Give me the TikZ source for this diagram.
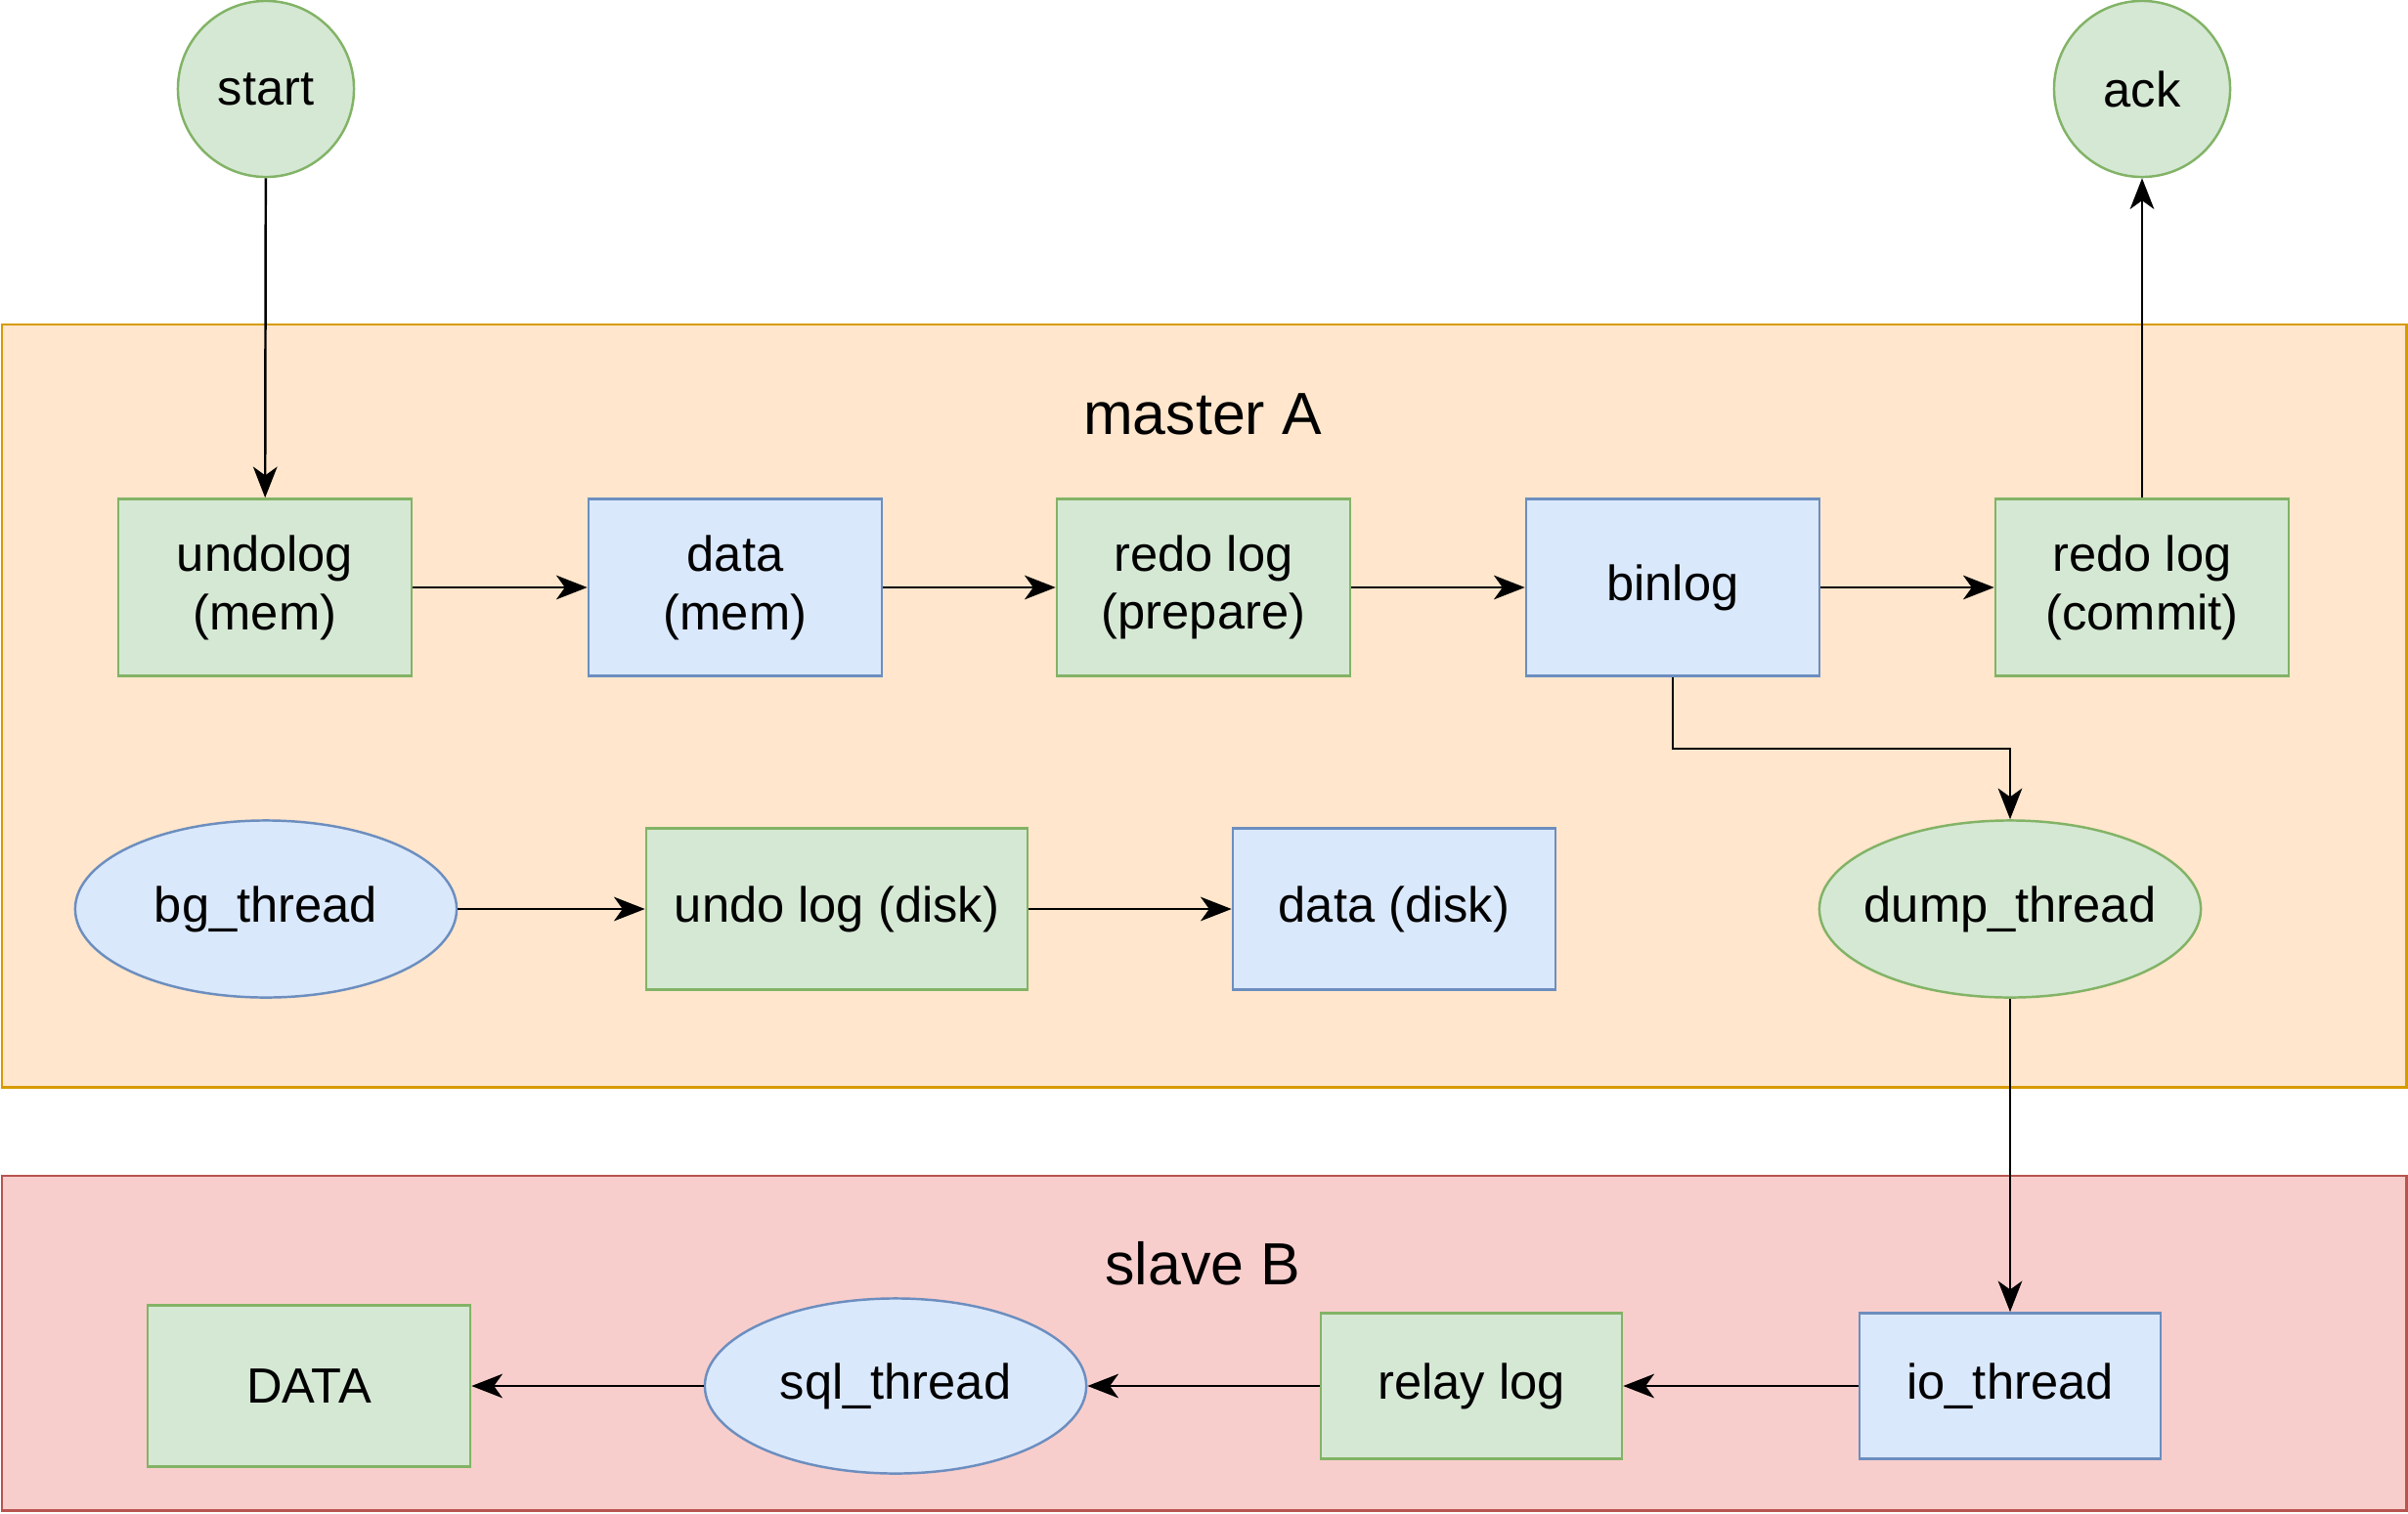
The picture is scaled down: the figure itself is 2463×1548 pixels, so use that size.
\documentclass[tikz,border=0pt]{standalone}
\usepackage{fontspec}
\setmainfont{Liberation Sans}
\usetikzlibrary{arrows.meta,shapes.geometric}
\definecolor{gfill}{HTML}{D5E8D4}\definecolor{gdraw}{HTML}{82B366}
\definecolor{bfill}{HTML}{DAE8FC}\definecolor{bdraw}{HTML}{6C8EBF}
\definecolor{ofill}{HTML}{FFE6CC}\definecolor{odraw}{HTML}{D79B00}
\definecolor{rfill}{HTML}{F8CECC}\definecolor{rdraw}{HTML}{B85450}
\tikzset{
  gbox/.style={draw=gdraw,fill=gfill,line width=0.7pt,font=\fontsize{14.4}{17}\selectfont,align=center,inner sep=0pt},
  bbox/.style={draw=bdraw,fill=bfill,line width=0.7pt,font=\fontsize{14.4}{17}\selectfont,align=center,inner sep=0pt},
  ell/.style={ellipse,inner xsep=-0.3cm,minimum width=3.90cm,minimum height=1.81cm},
  conn/.style={line width=0.7pt,-{Stealth[length=9pt,width=7pt,inset=2.5pt]}},
}
\begin{document}
\begin{tikzpicture}[x=0.01cm,y=-0.01cm]
\useasboundingbox (0,0) rectangle (2463,1548);
% containers
\node[draw=odraw,fill=ofill,line width=0.7pt,minimum width=24.58cm,minimum height=7.80cm,inner sep=0pt,anchor=north west] (mA) at (1,331) {};
\node[font=\fontsize{17.3}{20}\selectfont] (mAl) at (1230,424) {master A};
\node[draw=rdraw,fill=rfill,line width=0.7pt,minimum width=24.58cm,minimum height=3.42cm,inner sep=0pt,anchor=north west] (sB) at (1,1202) {};
\node[font=\fontsize{17.3}{20}\selectfont] (sBl) at (1230,1293) {slave B};
% circles
\node[gbox,circle,minimum size=1.80cm] (start) at (272,91) {start};
\node[gbox,circle,minimum size=1.80cm] (ack) at (2191,91) {ack};
% row 1
\node[gbox,minimum width=3.00cm,minimum height=1.81cm] (undo) at (271,601) {undolog\\(mem)};
\node[bbox,minimum width=3.00cm,minimum height=1.81cm] (datam) at (752,601) {data\\(mem)};
\node[gbox,minimum width=3.00cm,minimum height=1.81cm] (redop) at (1231,601) {redo log\\(prepare)};
\node[bbox,minimum width=3.00cm,minimum height=1.81cm] (binlog) at (1711,601) {binlog};
\node[gbox,minimum width=3.00cm,minimum height=1.81cm] (redoc) at (2191,601) {redo log\\(commit)};
% row 2
\node[bbox,ell] (bg) at (272,930) {bg\_thread};
\node[gbox,minimum width=3.90cm,minimum height=1.65cm] (undod) at (856,930) {undo log (disk)};
\node[bbox,minimum width=3.30cm,minimum height=1.65cm] (datad) at (1426,930) {data (disk)};
\node[gbox,ell] (dump) at (2056,930) {dump\_thread};
% slave row
\node[gbox,minimum width=3.30cm,minimum height=1.65cm] (DATA) at (316,1418) {DATA};
\node[bbox,ell,minimum height=1.79cm] (sql) at (916,1418) {sql\_thread};
\node[gbox,minimum width=3.08cm,minimum height=1.49cm] (relay) at (1505,1418) {relay log};
\node[bbox,minimum width=3.08cm,minimum height=1.49cm] (io) at (2056,1418) {io\_thread};
% connectors
\draw[conn] (start) -- (undo);
\draw[conn] (undo) -- (datam);
\draw[conn] (datam) -- (redop);
\draw[conn] (redop) -- (binlog);
\draw[conn] (binlog) -- (redoc);
\draw[conn] (redoc) -- (ack);
\draw[conn] (binlog.south) |- (2056,766) -- (dump.north);
\draw[conn] (bg) -- (undod);
\draw[conn] (undod) -- (datad);
\draw[conn] (dump) -- (io);
\draw[conn] (io) -- (relay);
\draw[conn] (relay) -- (sql);
\draw[conn] (sql) -- (DATA);
\end{tikzpicture}
\end{document}
